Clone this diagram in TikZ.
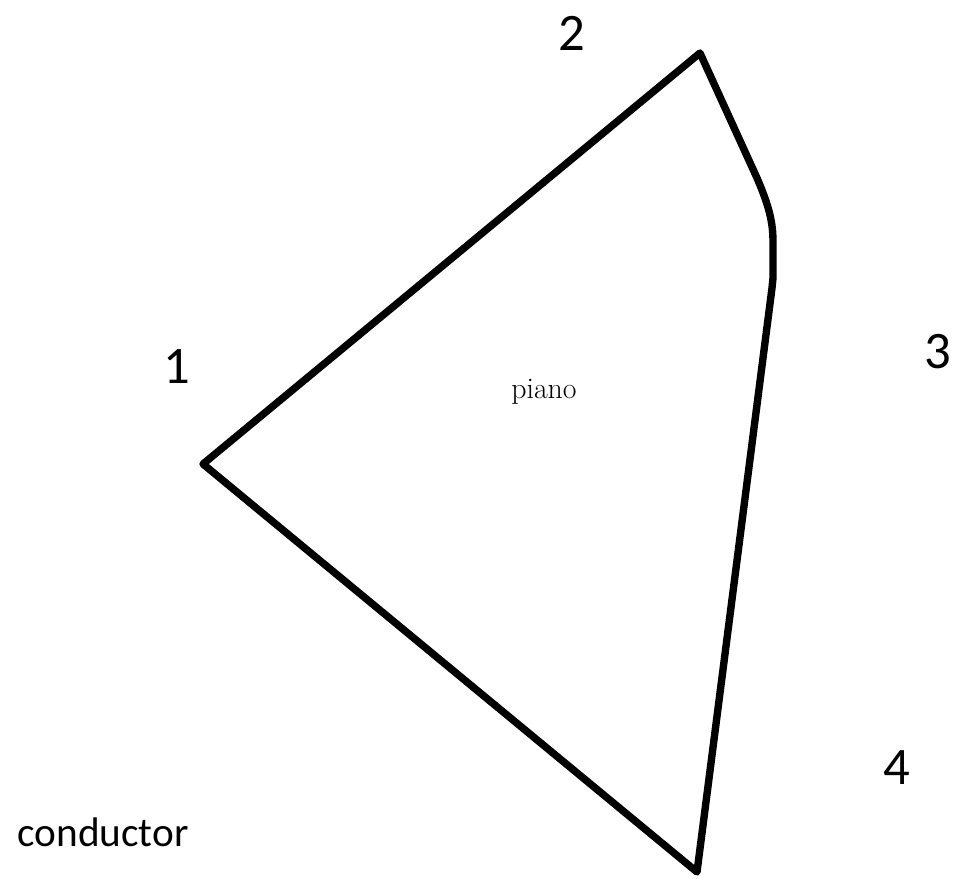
\documentclass[tikz,border=0pt]{standalone}
\usepackage{fontspec}
\newfontfamily\labelfont{Carlito}
\begin{document}
\begin{tikzpicture}[x=0.02cm, y=-0.02cm,
    outline/.style={line width=4.2pt, line join=round, line cap=round},
    seat/.style={font=\labelfont\fontsize{30}{32}\selectfont, inner sep=0pt},
    tag/.style={font=\labelfont\fontsize{23.5}{25}\selectfont, inner sep=0pt}]
  \useasboundingbox (0,0) rectangle (961,879);
  % corners of the piano
  \coordinate (tail) at (203,464);
  \coordinate (top) at (700,53);
  \coordinate (bend) at (757,178);
  \coordinate (rim) at (772,288);
  \coordinate (keys) at (697,872);
  \draw[outline] (tail) -- (top) -- (bend)
    .. controls (769,206) and (773,222) .. (773,242) -- (773,278) -- (rim) -- (keys) -- cycle;
  % labels
  \node[seat] (n1) at (177,367) {1};
  \node[seat] (n2) at (572,33) {2};
  \node[seat] (n3) at (938,352) {3};
  \node[seat] (n4) at (897,768) {4};
  \node[font=\fontsize{17}{19}\selectfont] (piano) at (544,392) {piano};
  \node[tag] (cond) at (103,832) {conductor};
\end{tikzpicture}
\end{document}
